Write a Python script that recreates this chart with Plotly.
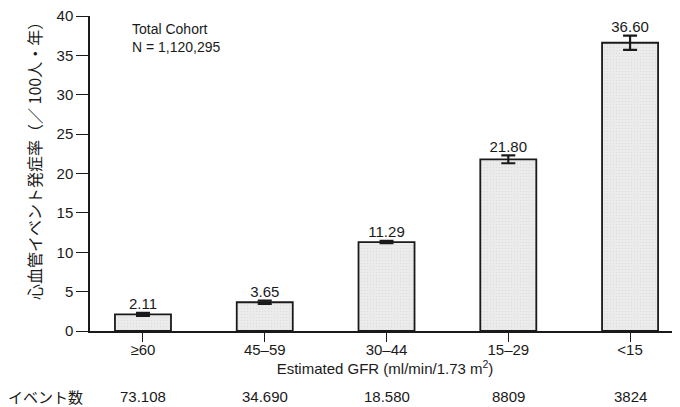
import plotly.graph_objects as go

categories = ["≥60", "45–59", "30–44", "15–29", "<15"]
rates = [2.11, 3.65, 11.29, 21.80, 36.60]
errors = [0.2, 0.2, 0.15, 0.5, 0.9]
rate_labels = ["2.11", "3.65", "11.29", "21.80", "36.60"]
event_counts = ["73.108", "34.690", "18.580", "8809", "3824"]
y_ticks = [0, 5, 10, 15, 20, 25, 30, 35, 40]

FONT = "Liberation Sans, Arial, Noto Sans CJK JP, sans-serif"
JFONT = "Noto Sans CJK JP, Liberation Sans, sans-serif"
INK = "#1a1a1a"

# page body has an 8px margin; plot area placed so it lands at the reference position
OFF = 8
PL, PT, PW, PH = 90, 16, 590, 315

xs = list(range(len(categories)))

fig = go.Figure()
fig.add_trace(go.Bar(
    x=xs, y=rates, width=0.46,
    marker=dict(color="#e8e8e8", line=dict(color=INK, width=1.8),
                pattern=dict(shape=".", size=3, solidity=0.12, fgcolor="#c4c4c4", bgcolor="#ebebeb")),
    error_y=dict(type="data", array=errors, color=INK, thickness=2.2, width=7),
    hoverinfo="skip", showlegend=False,
))
fig.add_trace(go.Scatter(
    x=xs, y=[r + e for r, e in zip(rates, errors)],
    mode="text", text=rate_labels, textposition="top center",
    textfont=dict(family=FONT, size=15, color=INK),
    hoverinfo="skip", showlegend=False,
))

fig.update_layout(
    width=680 - OFF, height=407 - OFF,
    margin=dict(l=PL - OFF, r=0, t=PT - OFF, b=407 - OFF - (PT - OFF) - PH),
    plot_bgcolor="white", paper_bgcolor="white",
    font=dict(family=FONT, color=INK, size=15),
    xaxis=dict(
        range=[-0.435, 4.41], tickvals=xs, ticktext=categories,
        showline=True, linecolor=INK, linewidth=1.5,
        ticks="outside", ticklen=9, tickwidth=1.2, tickcolor=INK,
        ticklabelstandoff=-5,
        showgrid=False, zeroline=False, tickfont=dict(size=15, family=FONT),
        title=dict(text="Estimated GFR (ml/min/1.73 m<sup>2</sup>)", font=dict(size=15, family=FONT), standoff=3),
    ),
    yaxis=dict(
        range=[0, 40], tickvals=y_ticks,
        showline=True, linecolor=INK, linewidth=1.5,
        ticks="outside", ticklen=12, tickwidth=1.2, tickcolor=INK,
        ticklabeloverflow="allow",
        showgrid=False, zeroline=False, tickfont=dict(size=15, family=FONT),
    ),
)

fig.add_annotation(
    x=(20 - PL) / PW, y=1 - (157 - PT) / PH, xref="paper", yref="paper", textangle=-90,
    text="心血管イベント発症率（／ 100人・年）", showarrow=False,
    font=dict(family=JFONT, size=16, color=INK),
)
fig.add_annotation(
    x=(130 - PL) / PW, y=1 - (19 - PT) / PH, xref="paper", yref="paper",
    xanchor="left", yanchor="top", align="left",
    text="Total Cohort<br>N = 1,120,295", showarrow=False,
    font=dict(family=FONT, size=14, color=INK),
)
fig.add_annotation(
    x=(6 - PL) / PW, y=-(396 - PT - PH) / PH, xref="paper", yref="paper",
    xanchor="left", yanchor="middle", text="イベント数", showarrow=False,
    font=dict(family=JFONT, size=15, color=INK),
)
for i, c in enumerate(event_counts):
    fig.add_annotation(
        x=i, y=-(396 - PT - PH) / PH, xref="x", yref="paper",
        xanchor="center", yanchor="middle", text=c, showarrow=False,
        font=dict(family=FONT, size=15, color=INK),
    )

fig.write_html("out.html")
